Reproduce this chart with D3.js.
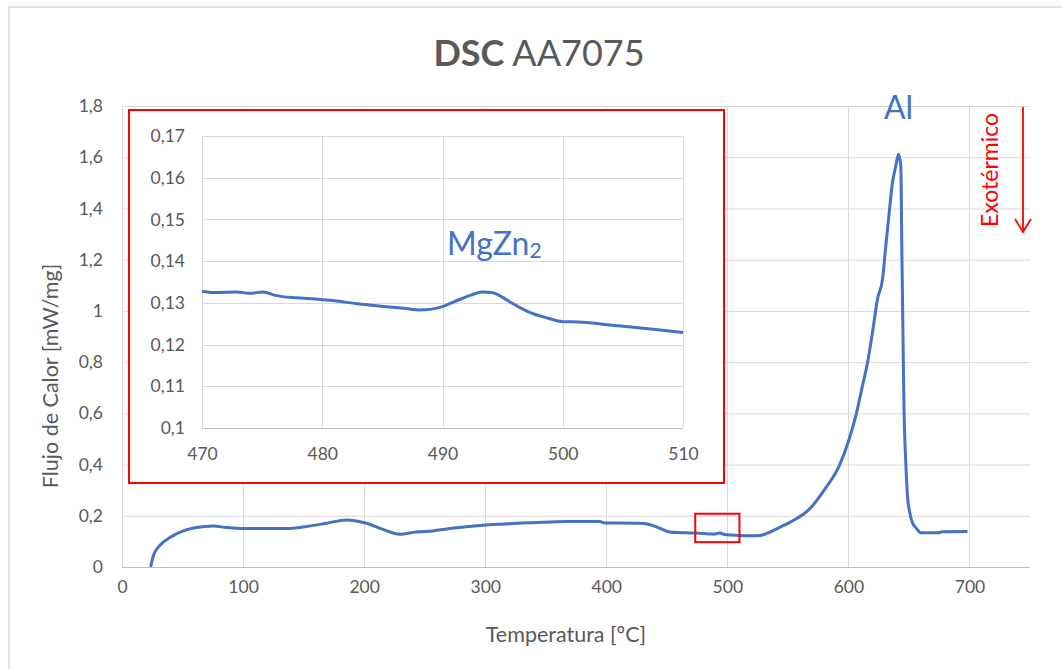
<!DOCTYPE html>
<html>
<head>
<meta charset="utf-8">
<script src="https://cdn.jsdelivr.net/npm/d3@7"></script>
<style>
  html, body { margin: 0; padding: 0; background: #fff; }
  svg { display: block; font-family: Lato, "Open Sans", sans-serif; }
</style>
</head>
<body>
<svg id="chart" width="1062" height="669"></svg>
<script>
// DSC heating curve of AA7075: temperature [ºC] and heat flow [mW/mg]
const tempLow = [23.7, 25.8, 31.4, 39.6, 50.6, 61.6, 75.4, 86.4, 100, 135.9, 152.4, 168.9, 185.4, 193.6,
  201.9, 215.6, 229.4, 243.1, 256.9, 270.6, 298.1, 311.9, 339.4, 366.9, 394.4, 398.5, 427.4, 435.6,
  443.9, 452.2, 462];
const flowLow = [0, 0.043, 0.085, 0.115, 0.141, 0.154, 0.160, 0.154, 0.150, 0.150, 0.158, 0.171, 0.184, 0.180,
  0.171, 0.147, 0.128, 0.137, 0.141, 0.150, 0.163, 0.167, 0.173, 0.178, 0.178, 0.172, 0.171, 0.166,
  0.152, 0.137, 0.134];

// MgZn2 region, 470–510 ºC (shown enlarged in the inset)
const tempMid = [470, 471, 472.9, 473.9, 475.1, 476.1, 477.8, 479.4, 481, 482.9, 484.9, 486.8, 488.1, 489.1,
  490, 491, 492.3, 493.3, 494.2, 494.9, 495.8, 497.1, 498.8, 500, 501.3, 504.6, 507.5, 510];
const flowMid = [0.1328, 0.1325, 0.1326, 0.1323, 0.1326, 0.1318, 0.1312, 0.1309, 0.1305, 0.1298, 0.1292, 0.1287,
  0.1283, 0.1285, 0.1291, 0.1303, 0.1318, 0.1326, 0.1324, 0.1315, 0.1299, 0.1279, 0.1263, 0.1255, 0.1254,
  0.1245, 0.1237, 0.1229];

// Al melting peak and the plateau after it
const tempHigh = [520, 527, 532, 542.9, 553.9, 567.6, 581.4, 592.4, 600.6, 606.1, 611.6, 615.8, 619.9, 624,
  628.2, 630.9, 633.7, 636.4, 639.2, 641.4, 643.3, 644.1, 645.2, 646, 647.4, 648.8, 650.7, 652.9, 655.7,
  659.8, 674.8, 677.6, 698.3];
const flowHigh = [0.122, 0.123, 0.130, 0.154, 0.180, 0.225, 0.310, 0.395, 0.499, 0.590, 0.707, 0.798, 0.916, 1.046,
  1.124, 1.254, 1.384, 1.501, 1.566, 1.612, 1.566, 1.254, 0.863, 0.603, 0.408, 0.277, 0.212, 0.173, 0.154,
  0.134, 0.134, 0.138, 0.139];

const xTicks = [0, 100, 200, 300, 400, 500, 600, 700];
const yTicks = [0, 0.2, 0.4, 0.6, 0.8, 1, 1.2, 1.4, 1.6, 1.8];
const insetXTicks = [470, 480, 490, 500, 510];
const insetYTicks = [0.1, 0.11, 0.12, 0.13, 0.14, 0.15, 0.16, 0.17];
// Area marked on the main plot by the small red box
const zoomTemp = [473.5, 510];
const zoomFlow = [0.097, 0.208];

const zip = (xs, ys) => xs.map((x, i) => ({ t: x, f: ys[i] }));
const mid = zip(tempMid, flowMid);
const series = zip(tempLow, flowLow).concat(mid, zip(tempHigh, flowHigh));

const fmt = v => String(+v.toFixed(2)).replace('.', ',');
const TXT = '#595959', GRID = '#d9d9d9', BLUE = '#4472C4', RED = '#ff0000';

const svg = d3.select('#chart');

// chart frame
svg.append('rect').attr('x', 9).attr('y', 7).attr('width', 1100).attr('height', 700)
  .attr('fill', 'none').attr('stroke', '#d9d9d9').attr('stroke-width', 1.5);

// title
const title = svg.append('text').attr('x', 539).attr('y', 66).attr('text-anchor', 'middle')
  .attr('fill', TXT).attr('font-size', 36);
title.append('tspan').attr('font-weight', 'bold').text('DSC');
title.append('tspan').text(' AA7075');

// main scales
const x = d3.scaleLinear().domain([0, 750]).range([122, 1030]);
const y = d3.scaleLinear().domain([0, 1.8]).range([567, 106]);

// grid
const g = svg.append('g');
g.selectAll('.hg').data(yTicks.slice(1)).join('line')
  .attr('x1', x(0)).attr('x2', x(750)).attr('y1', d => y(d) + 0.5).attr('y2', d => y(d) + 0.5)
  .attr('stroke', GRID).attr('stroke-width', 1);
g.selectAll('.vg').data(xTicks).join('line')
  .attr('x1', d => Math.round(x(d)) + 0.5).attr('x2', d => Math.round(x(d)) + 0.5)
  .attr('y1', y(1.8)).attr('y2', y(0))
  .attr('stroke', GRID).attr('stroke-width', 1);

// axes (labels only, Excel style)
const xAxis = d3.axisBottom(x).tickValues(xTicks).tickSize(0).tickPadding(14).tickFormat(fmt);
const gx = svg.append('g').attr('transform', `translate(0,${y(0)})`).call(xAxis);
gx.select('.domain').attr('stroke', '#bfbfbf').attr('d', `M${x(0)},0.5H${x(750)}`);
gx.selectAll('text').attr('fill', TXT).attr('font-size', 17.5).attr('font-family', 'Lato');

const yAxis = d3.axisLeft(y).tickValues(yTicks).tickSize(0).tickPadding(19).tickFormat(fmt);
const gy = svg.append('g').attr('transform', `translate(${x(0)},0)`).call(yAxis);
gy.select('.domain').remove();
gy.selectAll('text').attr('fill', TXT).attr('font-size', 17.5).attr('font-family', 'Lato');

// axis titles
svg.append('text').attr('x', 566).attr('y', 642).attr('text-anchor', 'middle')
  .attr('fill', TXT).attr('font-size', 21.5).text('Temperatura [ºC]');
svg.append('text').attr('transform', 'translate(58,376) rotate(-90)').attr('text-anchor', 'middle')
  .attr('fill', TXT).attr('font-size', 21.5).text('Flujo de Calor [mW/mg]');

// main curve
const line = d3.line().x(d => x(d.t)).y(d => y(d.f)).curve(d3.curveMonotoneX);
svg.append('path').datum(series).attr('d', line)
  .attr('fill', 'none').attr('stroke', BLUE).attr('stroke-width', 3).attr('stroke-linejoin', 'round');

// box around the MgZn2 region
svg.append('rect')
  .attr('x', x(zoomTemp[0])).attr('y', y(zoomFlow[1]))
  .attr('width', x(zoomTemp[1]) - x(zoomTemp[0])).attr('height', y(zoomFlow[0]) - y(zoomFlow[1]))
  .attr('fill', 'none').attr('stroke', RED).attr('stroke-width', 2);

// Al peak label
svg.append('text').attr('x', x(641.4)).attr('y', 119).attr('text-anchor', 'middle')
  .attr('fill', BLUE).attr('font-size', 32).text('Al');

// exothermic direction
svg.append('text').attr('transform', 'translate(998,170) rotate(-90)').attr('text-anchor', 'middle')
  .attr('fill', RED).attr('font-size', 23).text('Exotérmico');
svg.append('line').attr('x1', 1023).attr('x2', 1023).attr('y1', 107).attr('y2', 232)
  .attr('stroke', RED).attr('stroke-width', 1.8);
svg.append('path').attr('d', 'M1015,219L1023,232L1031,219')
  .attr('fill', 'none').attr('stroke', RED).attr('stroke-width', 1.8);

// ---- inset: 470–510 ºC ----
svg.append('rect').attr('x', 129).attr('y', 110).attr('width', 595).attr('height', 373)
  .attr('fill', '#fff').attr('stroke', RED).attr('stroke-width', 2);

const xi = d3.scaleLinear().domain([470, 510]).range([202, 683]);
const yi = d3.scaleLinear().domain([0.1, 0.17]).range([428, 136]);

const gi = svg.append('g');
gi.selectAll('.ihg').data(insetYTicks.slice(1)).join('line')
  .attr('x1', xi(470)).attr('x2', xi(510)).attr('y1', d => Math.round(yi(d)) + 0.5).attr('y2', d => Math.round(yi(d)) + 0.5)
  .attr('stroke', GRID).attr('stroke-width', 1);
gi.selectAll('.ivg').data(insetXTicks).join('line')
  .attr('x1', d => Math.round(xi(d)) + 0.5).attr('x2', d => Math.round(xi(d)) + 0.5)
  .attr('y1', yi(0.17)).attr('y2', yi(0.1))
  .attr('stroke', GRID).attr('stroke-width', 1);

const xiAxis = d3.axisBottom(xi).tickValues(insetXTicks).tickSize(0).tickPadding(20).tickFormat(d3.format('d'));
const gxi = svg.append('g').attr('transform', `translate(0,${yi(0.1)})`).call(xiAxis);
gxi.select('.domain').attr('stroke', '#bfbfbf').attr('d', `M${xi(470)},0.5H${xi(510)}`);
gxi.selectAll('text').attr('fill', TXT).attr('font-size', 17.5).attr('font-family', 'Lato');

const yiAxis = d3.axisLeft(yi).tickValues(insetYTicks).tickSize(0).tickPadding(17).tickFormat(fmt);
const gyi = svg.append('g').attr('transform', `translate(${xi(470)},0)`).call(yiAxis);
gyi.select('.domain').remove();
gyi.selectAll('text').attr('fill', TXT).attr('font-size', 17.5).attr('font-family', 'Lato');

const lineI = d3.line().x(d => xi(d.t)).y(d => yi(d.f)).curve(d3.curveMonotoneX);
svg.append('path').datum(mid).attr('d', lineI)
  .attr('fill', 'none').attr('stroke', BLUE).attr('stroke-width', 3).attr('stroke-linejoin', 'round');

const mg = svg.append('text').attr('x', 447).attr('y', 255).attr('fill', BLUE).attr('font-size', 32);
mg.append('tspan').text('MgZn');
mg.append('tspan').attr('font-size', 21).attr('dy', 3).text('2');
</script>
</body>
</html>
